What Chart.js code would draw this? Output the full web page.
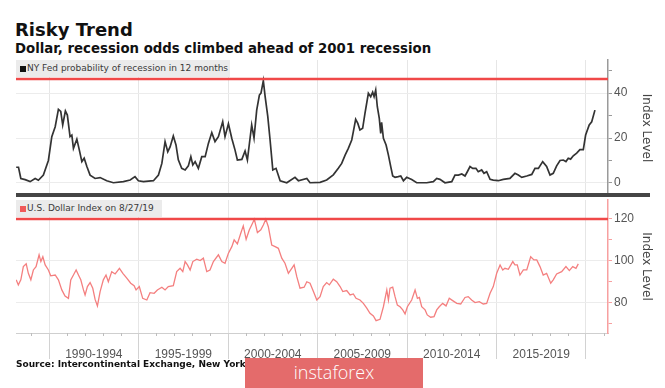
<!DOCTYPE html>
<html>
<head>
<meta charset="utf-8">
<script src="https://cdn.jsdelivr.net/npm/chart.js@4.4.1/dist/chart.umd.min.js"></script>
<style>
  html, body { margin: 0; padding: 0; background: #fff; }
  #page { position: relative; width: 665px; height: 388px; overflow: hidden; font-family: "DejaVu Sans", Verdana, sans-serif; }
  .abs { position: absolute; }
  #title { left: 15px; top: 19px; font-size: 18px; font-weight: bold; color: #111; }
  #subtitle { left: 15px; top: 41px; font-size: 13.3px; font-weight: bold; color: #111; white-space: nowrap; }
  .legend { background: #ebebeb; height: 17px; font-family: "DejaVu Sans", sans-serif; font-size: 9px; color: #3a3a3a; line-height: 17px; padding-left: 11px; box-sizing: border-box; white-space: nowrap; }
  .legend i { position: absolute; left: 4px; top: 6px; width: 6px; height: 6px; }
  #sep { left: 16px; top: 193px; width: 634px; height: 4px; background: #454545; }
  #source { left: 16px; top: 359px; font-size: 9px; font-weight: bold; color: #111; white-space: nowrap; }
  #mark { left: 245px; top: 358px; width: 178px; height: 32px; background: #e46b6b; color: #fff; font-family: "Open Sans", sans-serif; font-weight: 300; font-size: 18px; text-align: center; line-height: 28px; }
</style>
</head>
<body>
<div id="page">
  <div id="title" class="abs">Risky Trend</div>
  <div id="subtitle" class="abs">Dollar, recession odds climbed ahead of 2001 recession</div>
  <canvas id="topChart" class="abs" style="left:0;top:58px" width="665" height="140"></canvas>
  <canvas id="bottomChart" class="abs" style="left:0;top:198px" width="665" height="172"></canvas>
  <div class="abs legend" style="left:16px;top:60px;width:214px"><i style="background:#111"></i>NY Fed probability of recession in 12 months</div>
  <div class="abs legend" style="left:16px;top:200px;width:146px"><i style="background:#f05a5a"></i>U.S. Dollar Index on 8/27/19</div>
  <div id="sep" class="abs"></div>
  <div id="source" class="abs">Source: Intercontinental Exchange, New York Fed</div>
  <div id="mark" class="abs">instaforex</div>
</div>
<script>
// NY Fed recession probability (%)
const recessionYears = [
  1988.16, 1988.29, 1988.42, 1988.66, 1988.94, 1989.22, 1989.40, 1989.68, 1989.96, 1990.15,
  1990.34, 1990.52, 1990.65, 1990.76, 1990.91, 1991.02, 1991.17, 1991.27, 1991.36, 1991.55,
  1991.69, 1991.83, 1991.96, 1992.11, 1992.29, 1992.57, 1992.85, 1993.22, 1993.59, 1994.15,
  1994.53, 1994.80, 1994.99, 1995.27, 1995.83, 1996.11, 1996.30, 1996.48, 1996.63, 1996.76,
  1996.94, 1997.09, 1997.22, 1997.41, 1997.60, 1997.78, 1997.92, 1998.03, 1998.16, 1998.34,
  1998.53, 1998.72, 1998.90, 1999.09, 1999.27, 1999.46, 1999.70, 1999.83, 2000.02, 2000.21,
  2000.39, 2000.52, 2000.77, 2000.95, 2001.08, 2001.32, 2001.45, 2001.60, 2001.75, 2001.84,
  2001.97, 2002.07, 2002.22, 2002.35, 2002.50, 2002.68, 2002.91, 2003.28, 2003.74, 2003.93,
  2004.40, 2004.58, 2005.14, 2005.51, 2005.88, 2006.16, 2006.35, 2006.54, 2006.72, 2006.91,
  2007.00, 2007.13, 2007.25, 2007.37, 2007.52, 2007.65, 2007.84, 2007.97, 2008.08, 2008.16,
  2008.25, 2008.34, 2008.45, 2008.53, 2008.58, 2008.68, 2008.83, 2008.96, 2009.09, 2009.20,
  2009.33, 2009.51, 2009.65, 2009.80, 2009.98, 2010.26, 2010.54, 2011.10, 2011.47, 2011.66,
  2011.84, 2012.12, 2012.50, 2012.68, 2012.87, 2013.06, 2013.24, 2013.37, 2013.52, 2013.67,
  2013.85, 2013.98, 2014.17, 2014.30, 2014.45, 2014.64, 2014.82, 2015.10, 2015.38, 2015.75,
  2016.03, 2016.22, 2016.41, 2016.69, 2016.97, 2017.15, 2017.34, 2017.58, 2017.80, 2017.99,
  2018.17, 2018.36, 2018.55, 2018.73, 2018.88, 2019.01, 2019.14, 2019.29, 2019.48, 2019.66,
  2019.85, 2019.98, 2020.18, 2020.32, 2020.50
];
const recessionValues = [
  7, 7, 2, 1.5, 0.6, 2, 1.2, 3.5, 10, 20.6,
  25, 32.7, 31.8, 25.8, 32, 30.2, 20.6, 21.3, 15.4, 19.5,
  14.6, 9.5, 11, 7.3, 3.5, 2, 2.4, 1, 0.1, 0.6,
  1.3, 2.8, 1, 0.6, 1, 3.5, 8.7, 18.4, 13.9, 16,
  20.9, 16.9, 10.3, 6.5, 5.8, 7.6, 11.7, 8, 9.5, 6.5,
  11.7, 11.7, 17.6, 22.4, 18.4, 20.6, 27.3, 20.6, 26.3, 19.8,
  14.6, 10.2, 10.5, 14.2, 10.2, 25.8, 20, 32.4, 39.1, 40,
  45.5, 38.5, 29.5, 18.9, 5.8, 6.5, 1, 0.1, 2.5, 1,
  2, 0.1, 0.3, 1.3, 3.6, 6.5, 8.7, 12.4, 15.4, 19.1,
  22.8, 28.3, 26.5, 23.6, 24.3, 31, 39.9, 38.4, 40.4, 38.4,
  41.3, 33.9, 28.7, 22, 27, 19.9, 16.9, 12.4, 7.3, 3.1,
  2.5, 2.8, 3.1, 1, 2.5, 1.5, 0.1, 0.1, 0.6, 2,
  1.6, 0.1, 0.6, 3.5, 3.5, 4, 3.1, 5, 7.3, 6.5,
  6.5, 5, 5.8, 4.3, 5, 1.6, 1.3, 1, 1.6, 2,
  4.3, 3.5, 2.5, 3.1, 3.8, 6.5, 6.5, 9.5, 7.3, 3.5,
  4.3, 7.6, 10, 10.2, 9.5, 11, 10.6, 12.1, 13.3, 14.8,
  14.8, 21.3, 25.8, 27.2, 32.4
];

// U.S. Dollar Index
const dollarYears = [
  1988.16, 1988.28, 1988.42, 1988.56, 1988.72, 1988.84, 1988.98, 1989.12, 1989.27, 1989.44,
  1989.54, 1989.65, 1989.78, 1989.96, 1990.09, 1990.34, 1990.52, 1990.71, 1990.89, 1991.08,
  1991.21, 1991.36, 1991.51, 1991.64, 1991.77, 1991.92, 1992.01, 1992.14, 1992.29, 1992.44,
  1992.57, 1992.70, 1992.85, 1993.03, 1993.18, 1993.31, 1993.50, 1993.69, 1993.93, 1994.12,
  1994.34, 1994.56, 1994.75, 1994.86, 1995.04, 1995.23, 1995.46, 1995.64, 1995.87, 1996.05,
  1996.30, 1996.48, 1996.66, 1996.94, 1997.13, 1997.32, 1997.47, 1997.60, 1997.73, 1997.88,
  1998.03, 1998.25, 1998.44, 1998.62, 1998.81, 1998.99, 1999.18, 1999.46, 1999.65, 1999.83,
  2000.02, 2000.21, 2000.34, 2000.52, 2000.71, 2000.85, 2001.01, 2001.19, 2001.32, 2001.47,
  2001.64, 2001.83, 2001.97, 2002.11, 2002.25, 2002.44, 2002.63, 2002.81, 2003.00, 2003.18,
  2003.37, 2003.56, 2003.69, 2003.84, 2004.02, 2004.25, 2004.40, 2004.58, 2004.77, 2004.96,
  2005.14, 2005.32, 2005.51, 2005.66, 2005.88, 2006.07, 2006.26, 2006.41, 2006.63, 2006.82,
  2007.00, 2007.15, 2007.37, 2007.56, 2007.75, 2007.93, 2008.12, 2008.27, 2008.49, 2008.68,
  2008.87, 2008.96, 2009.05, 2009.20, 2009.33, 2009.46, 2009.61, 2009.76, 2009.89, 2010.02,
  2010.26, 2010.45, 2010.58, 2010.69, 2010.82, 2011.01, 2011.13, 2011.32, 2011.51, 2011.66,
  2011.80, 2011.99, 2012.18, 2012.36, 2012.55, 2012.78, 2013.00, 2013.24, 2013.42, 2013.61,
  2013.80, 2014.04, 2014.26, 2014.45, 2014.64, 2014.82, 2015.01, 2015.20, 2015.35, 2015.47,
  2015.66, 2015.91, 2016.03, 2016.16, 2016.31, 2016.50, 2016.69, 2016.91, 2017.09, 2017.25,
  2017.43, 2017.61, 2017.80, 2018.03, 2018.17, 2018.36, 2018.64, 2018.88, 2019.07, 2019.26,
  2019.44, 2019.57
];
const dollarValues = [
  91, 88.6, 91, 97.3, 98.6, 94.1, 91, 95.7, 97.3, 102.9,
  99.7, 102, 98.1, 95.7, 92.9, 93.3, 91, 86.2, 83.3, 82.2,
  91, 93.3, 95.7, 93.3, 91, 86.2, 83.8, 87.8, 89.7, 87,
  81.7, 78.6, 85.4, 91, 93.3, 90.1, 94.9, 93.8, 96.5, 94.1,
  91.8, 89.4, 88.2, 86.2, 87.8, 82.2, 81.4, 84.9, 84.6, 86.2,
  87.5, 86.2, 87.8, 88.2, 94.9, 96.5, 94.9, 99.7, 98.1, 95.7,
  99.7, 100.8, 100.2, 101.3, 94.9, 95.7, 99.7, 102.9, 99.7, 98.9,
  103.7, 106.8, 110, 108.1, 113.2, 116.7, 110.3, 114.8, 117.1, 119.8,
  113.5, 114.8, 117.1, 119.8, 116.3, 107.6, 106.8, 106, 101.3, 98.9,
  94.1, 96.5, 98.1, 92.5, 87, 87.5, 90.1, 89.4, 85.4, 81.4,
  83, 87.8, 89.7, 88.6, 91.3, 90.1, 87.8, 85.4, 85.9, 83.8,
  84.3, 82.2, 81.4, 79.8, 77.5, 75.1, 73.8, 71.6, 72.2, 78.2,
  86.2, 81.4, 87, 87.5, 83, 79, 78.2, 76.7, 74.8, 78.2,
  81.4, 86.2, 82.2, 82.6, 78.2, 76.7, 74.3, 73.2, 73.5, 76.7,
  78.2, 79.8, 78.6, 82.2, 81.1, 79.8, 79.5, 82.6, 83, 81.4,
  80.2, 80.6, 79.5, 79.8, 84.6, 87.8, 94.1, 98.1, 95.7, 96.5,
  96, 99.7, 98.1, 98.1, 93.3, 95.7, 95.7, 102, 100.5, 100.5,
  97.3, 93.3, 94.1, 89.4, 91, 93.8, 94.9, 97.3, 95.4, 97.3,
  96.5, 98.6
];

// reference lines and axis labels
const recessionPeakLevel = 46.2;
const dollarPeakLevel = 120;
const periodStarts = [1990, 1995, 2000, 2005, 2010, 2015];
const periodLabels = ['1990-1994', '1995-1999', '2000-2004', '2005-2009', '2010-2014', '2015-2019'];
const recessionTicks = [0, 10, 20, 30, 40, 50];
const dollarTicks = [70, 80, 90, 100, 110, 120];

const xMin = 1988.15;
const xMax = 2021.23;

function toPoints(xs, ys) {
    return xs.map((x, i) => ({ x: x, y: ys[i] }));
}

function flatLine(level) {
    return [{ x: xMin, y: level }, { x: xMax, y: level }];
}

// x ticks: 5-year boundaries (grid lines) + period midpoints (labels)
function buildXTicks(scale) {
    const ticks = [];
    for (let y = 1990; y <= 2020; y += 5) ticks.push({ value: y });
    periodStarts.forEach(s => ticks.push({ value: s + 2.5 }));
    ticks.sort((a, b) => a.value - b.value);
    scale.ticks = ticks;
}

const isBoundary = v => Math.abs(v % 5) < 0.001;

function xAxis(showLabels) {
    return {
        type: 'linear',
        min: xMin,
        max: xMax,
        afterBuildTicks: buildXTicks,
        afterFit: s => {
            s.height = showLabels ? 37 : 0;
            s.paddingLeft = 0;
            s.paddingRight = 0;
        },
        border: { display: showLabels, color: '#cfcfcf' },
        grid: {
            drawTicks: showLabels,
            tickLength: 26,
            color: c => (c.tick && isBoundary(c.tick.value)) ? '#e6e6e6' : 'rgba(0,0,0,0)',
            tickColor: c => (c.tick && isBoundary(c.tick.value)) ? '#d2d2d2' : 'rgba(0,0,0,0)'
        },
        ticks: {
            display: showLabels,
            autoSkip: false,
            maxRotation: 0,
            padding: -12,
            color: '#555',
            font: { family: 'Liberation Sans', size: 12 },
            callback: v => {
                const i = periodStarts.indexOf(v - 2.5);
                return i >= 0 ? periodLabels[i] : '';
            }
        }
    };
}

function yAxis(min, max, tickValues, borderColor) {
    return {
        position: 'right',
        min: min,
        max: max,
        afterBuildTicks: s => { s.ticks = tickValues.map(v => ({ value: v })); },
        afterFit: s => {
            s.width = 47;
            s.paddingTop = 0;
            s.paddingBottom = 0;
        },
        border: { color: borderColor, width: 1.5 },
        grid: {
            tickLength: 4,
            color: c => (c.tick && c.tick.value % 20 === 0) ? '#ececec' : 'rgba(0,0,0,0)',
            tickColor: borderColor
        },
        ticks: {
            padding: 2,
            color: '#555',
            font: { family: 'Liberation Sans', size: 12 },
            callback: v => (v % 20 === 0 ? v : '')
        },
        title: {
            display: true,
            text: 'Index Level',
            color: '#444',
            padding: 2,
            font: { family: 'DejaVu Sans', size: 12 }
        }
    };
}

// small yearly tick marks under the lower panel
const yearTicksPlugin = {
    id: 'yearTicks',
    afterDraw(chart) {
        const x = chart.scales.x;
        const ctx = chart.ctx;
        const bottom = chart.chartArea.bottom;
        ctx.save();
        ctx.strokeStyle = '#bdbdbd';
        ctx.lineWidth = 1;
        for (let y = Math.ceil(xMin); y <= xMax; y++) {
            if (isBoundary(y)) continue;
            const px = Math.round(x.getPixelForValue(y)) + 0.5;
            ctx.beginPath();
            ctx.moveTo(px, bottom);
            ctx.lineTo(px, bottom + 3);
            ctx.stroke();
        }
        ctx.restore();
    }
};

const commonOptions = {
    responsive: false,
    animation: false,
    devicePixelRatio: 1,
    plugins: { legend: { display: false }, tooltip: { enabled: false } },
    elements: { point: { radius: 0 }, line: { tension: 0 } }
};

new Chart(document.getElementById('topChart'), {
    type: 'line',
    data: {
        datasets: [{
            data: flatLine(recessionPeakLevel),
            borderColor: '#f04848',
            borderWidth: 2.5
        }, {
            data: toPoints(recessionYears, recessionValues),
            borderColor: '#333',
            borderWidth: 1.7
        }]
    },
    options: Object.assign({}, commonOptions, {
        layout: { padding: { left: 16, right: 10, top: 2, bottom: 2 } },
        scales: {
            x: xAxis(false),
            y: yAxis(-5.8, 54.7, recessionTicks, '#9a9a9a')
        }
    })
});

new Chart(document.getElementById('bottomChart'), {
    type: 'line',
    data: {
        datasets: [{
            data: flatLine(dollarPeakLevel),
            borderColor: '#f04848',
            borderWidth: 2.5
        }, {
            data: toPoints(dollarYears, dollarValues),
            borderColor: '#f47f7f',
            borderWidth: 1.3
        }]
    },
    options: Object.assign({}, commonOptions, {
        layout: { padding: { left: 16, right: 10, top: 2, bottom: 0 } },
        scales: {
            x: xAxis(true),
            y: yAxis(65.7, 129, dollarTicks, '#f7a0a0')
        }
    }),
    plugins: [yearTicksPlugin]
});
</script>
</body>
</html>
